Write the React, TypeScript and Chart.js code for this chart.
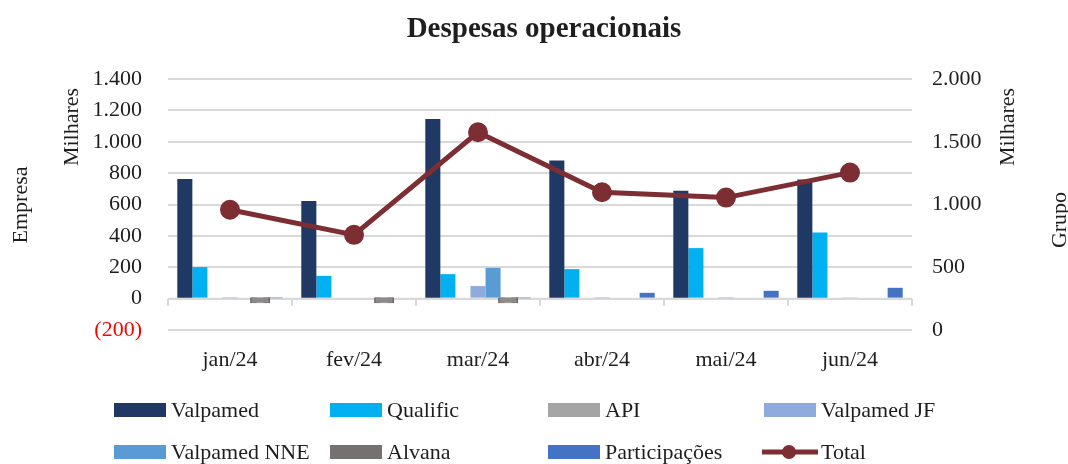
import React, { useEffect, useRef } from 'react';
import { Chart, registerables } from 'chart.js';

Chart.register(...registerables);

const categories = ['jan/24', 'fev/24', 'mar/24', 'abr/24', 'mai/24', 'jun/24'];
const valpamed = [762, 622, 1145, 881, 688, 760];
const qualific = [201, 145, 156, 188, 322, 422];
const api = [0, 0, 0, 0, 0, 0];
const valpamedJF = [3, 0, 80, 3, 3, 8];
const valpamedNNE = [0, 0, 196, 0, 0, 0];
const alvana = [-14, -14, -14, 0, 0, 0];
const participacoes = [3, 0, 3, 37, 50, 69];
const total = [958, 758, 1576, 1098, 1055, 1254];

const leftTickValues = [-200, 0, 200, 400, 600, 800, 1000, 1200, 1400];
const rightTickValues = [0, 500, 1000, 1500, 2000];

const titleText = 'Despesas operacionais';
const leftAxisTitle = 'Empresa';
const rightAxisTitle = 'Grupo';
const unitsLabel = 'Milhares';

const FONT = '"Liberation Serif", "DejaVu Serif", serif';
const TEXT = '#1e1e1e';

const series = [
  { label: 'Valpamed', data: valpamed, color: '#1F3864' },
  { label: 'Qualific', data: qualific, color: '#00B0F0' },
  { label: 'API', data: api, color: '#A5A5A5' },
  { label: 'Valpamed JF', data: valpamedJF, color: '#8FAADC' },
  { label: 'Valpamed NNE', data: valpamedNNE, color: '#5B9BD5' },
  { label: 'Alvana', data: alvana, color: '#767171' },
  { label: 'Participações', data: participacoes, color: '#4472C4' },
];
const totalLabel = 'Total';
const totalColor = '#7C2E32';

function fmt(n: number): string {
  const abs = Math.abs(n);
  const s = String(Math.round(abs)).replace(/\B(?=(\d{3})+(?!\d))/g, '.');
  return n < 0 ? `(${s})` : s;
}

function rotText(ctx: CanvasRenderingContext2D, text: string, x: number, y: number) {
  ctx.save();
  ctx.translate(x, y);
  ctx.rotate(-Math.PI / 2);
  ctx.textAlign = 'center';
  ctx.textBaseline = 'middle';
  ctx.fillText(text, 0, 0);
  ctx.restore();
}

const decor = {
  id: 'decor',
  beforeDatasetsDraw(chart: any) {
    const { ctx, chartArea, scales } = chart;
    const y0 = scales.y.getPixelForValue(0);
    ctx.save();
    ctx.strokeStyle = '#D9D9D9';
    ctx.lineWidth = 2;
    ctx.beginPath();
    ctx.moveTo(chartArea.left, y0);
    ctx.lineTo(chartArea.right, y0);
    const n = categories.length;
    const w = (chartArea.right - chartArea.left) / n;
    for (let i = 0; i <= n; i++) {
      const x = chartArea.left + i * w;
      ctx.moveTo(x, y0);
      ctx.lineTo(x, y0 + 7);
    }
    ctx.stroke();
    ctx.restore();
  },
  afterDraw(chart: any) {
    const { ctx } = chart;
    ctx.save();
    ctx.fillStyle = TEXT;
    ctx.font = `bold 29px ${FONT}`;
    ctx.textAlign = 'center';
    ctx.textBaseline = 'middle';
    ctx.fillText(titleText, 544, 30);
    ctx.font = `22px ${FONT}`;
    rotText(ctx, leftAxisTitle, 21, 205);
    rotText(ctx, unitsLabel, 72, 127);
    rotText(ctx, unitsLabel, 1008, 127);
    rotText(ctx, rightAxisTitle, 1060, 220);

    const colX = [114, 330, 548, 764];
    const rowY = [410, 452];
    const items: any[] = series.map((s) => ({ label: s.label, color: s.color, type: 'bar' }));
    items.push({ label: totalLabel, color: totalColor, type: 'line' });
    ctx.font = `22px ${FONT}`;
    ctx.textAlign = 'left';
    ctx.textBaseline = 'middle';
    items.forEach((it, i) => {
      const r = Math.floor(i / 4);
      const c = i % 4;
      const x = colX[c];
      const y = rowY[r];
      if (it.type === 'bar') {
        ctx.fillStyle = it.color;
        ctx.fillRect(x, y - 7, 52, 14);
      } else {
        ctx.strokeStyle = it.color;
        ctx.lineWidth = 5;
        ctx.beginPath();
        ctx.moveTo(x - 2, y);
        ctx.lineTo(x + 54, y);
        ctx.stroke();
        ctx.fillStyle = it.color;
        ctx.beginPath();
        ctx.arc(x + 25, y, 7, 0, Math.PI * 2);
        ctx.fill();
      }
      ctx.fillStyle = TEXT;
      ctx.fillText(it.label, x + 57, y + 1);
    });
    ctx.restore();
  },
};

export default function App() {
  const ref = useRef<HTMLCanvasElement | null>(null);
  useEffect(() => {
    document.body.style.margin = '0';
    const canvas = ref.current;
    if (!canvas) return;
    const datasets: any[] = [
      {
        type: 'line',
        label: totalLabel,
        data: total,
        yAxisID: 'y1',
        borderColor: totalColor,
        backgroundColor: totalColor,
        borderWidth: 5,
        pointRadius: 7.5,
        pointHoverRadius: 7.5,
        pointBackgroundColor: totalColor,
        pointBorderColor: totalColor,
        tension: 0,
        order: 0,
      },
      ...series.map((s) => {
        const isAlvana = s.label === 'Alvana';
        return {
          type: 'bar',
          label: s.label,
          data: s.data,
          yAxisID: 'y',
          backgroundColor: isAlvana ? '#8e8a8a' : s.color,
          borderColor: isAlvana ? '#6a6666' : s.color,
          borderWidth: isAlvana ? 1.5 : 0,
          borderRadius: isAlvana ? 3 : 0,
          inflateAmount: isAlvana ? 2.5 : 'auto',
          borderSkipped: false,
          categoryPercentage: 0.85,
          barPercentage: 1,
          order: 1,
        };
      }),
    ];
    const chart = new Chart(canvas, {
      type: 'bar',
      data: { labels: categories, datasets },
      options: {
        responsive: false,
        animation: false,
        devicePixelRatio: 1,
        layout: { padding: { top: 79, left: 0, right: 0, bottom: 0 } },
        plugins: {
          legend: { display: false },
          title: { display: false },
          tooltip: { enabled: false },
        },
        scales: {
          x: {
            grid: { display: false, drawTicks: false },
            border: { display: false },
            ticks: { color: TEXT, font: { family: FONT, size: 22 }, padding: 17 },
            afterFit: (s: any) => { s.height = 134; },
          },
          y: {
            position: 'left',
            min: -200,
            max: 1400,
            afterBuildTicks: (s: any) => { s.ticks = leftTickValues.map((v) => ({ value: v })); },
            grid: { color: '#D9D9D9', lineWidth: 2, drawTicks: false },
            border: { display: false },
            ticks: {
              color: (c: any) => (c.tick && c.tick.value < 0 ? '#FF0000' : TEXT),
              font: { family: FONT, size: 22 },
              padding: 26,
              callback: (v: any) => fmt(Number(v)),
            },
            afterFit: (s: any) => { s.width = 168; },
          },
          y1: {
            position: 'right',
            min: 0,
            max: 2000,
            afterBuildTicks: (s: any) => { s.ticks = rightTickValues.map((v) => ({ value: v })); },
            grid: { display: false, drawTicks: false },
            border: { display: false },
            ticks: {
              color: TEXT,
              font: { family: FONT, size: 22 },
              padding: 20,
              callback: (v: any) => fmt(Number(v)),
            },
            afterFit: (s: any) => { s.width = 156; },
          },
        },
      },
      plugins: [decor],
    });
    return () => chart.destroy();
  }, []);
  return (
    <div style={{ width: 1068, height: 464, background: '#fff' }}>
      <canvas ref={ref} width={1068} height={464} style={{ display: 'block', width: 1068, height: 464 }} />
    </div>
  );
}
